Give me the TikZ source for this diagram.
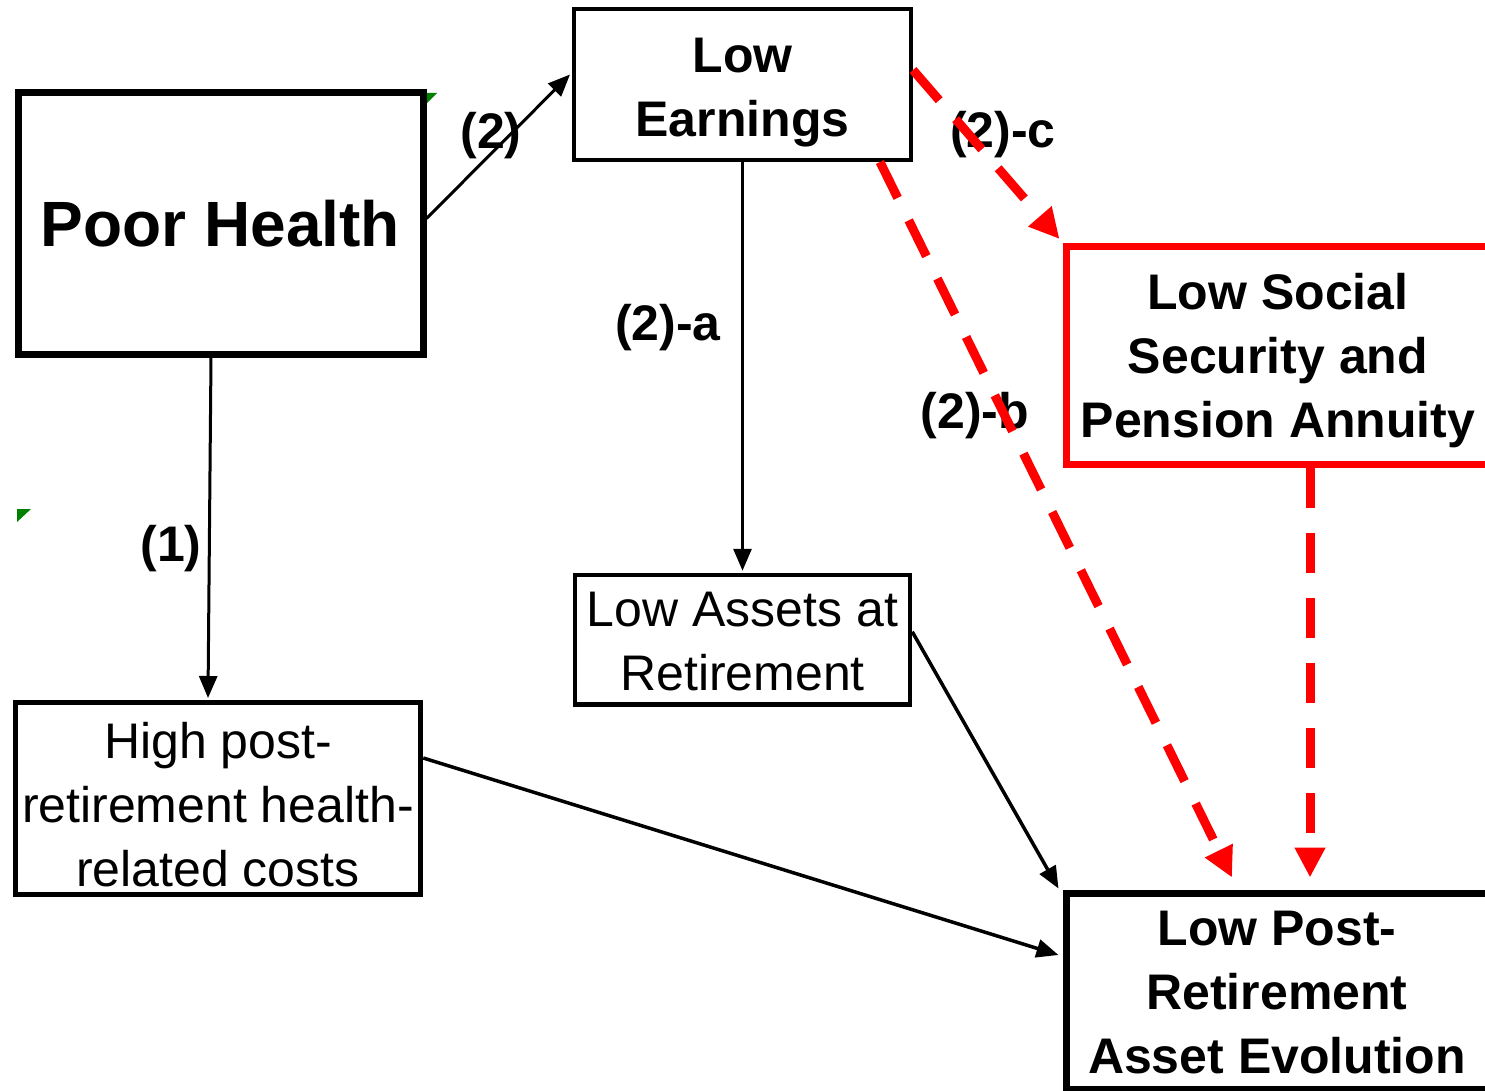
\documentclass[tikz,border=0pt]{standalone}
\usepackage{fontspec}
\setmainfont{Liberation Sans}
\usetikzlibrary{arrows.meta,calc}
\newcommand{\lowertext}[2]{\raisebox{-#1}[\height][\depth]{\begin{tabular}{@{}c@{}}#2\end{tabular}}}
\begin{document}
\begin{tikzpicture}[x=1pt,y=-1pt,
  box/.style={draw, rectangle, inner sep=0pt, align=center, fill=white,
    font=\fontsize{50}{64}\selectfont},
  bbox/.style={box, font=\fontsize{50}{64}\selectfont\bfseries},
  lbl/.style={inner sep=0pt, font=\fontsize{50}{60}\selectfont\bfseries},
  blk/.style={line width=3pt, -{Triangle[length=22pt,width=18pt]}},
  rdash/.style={draw=red, line width=9pt, dash pattern=on 40pt off 25pt,
    -{Triangle[length=30pt,width=29pt]}},
  greenmark/.style={fill=green!50!black, draw=none}
]
\useasboundingbox (0,0) rectangle (1485,1091);

% boxes
\node[bbox, line width=7pt, minimum width=405pt, minimum height=261pt,
  font=\fontsize{64}{70}\selectfont\bfseries] (ph) at (220.5,223.5) {Poor Health};
\node[bbox, line width=4pt, minimum width=337pt, minimum height=151pt] (le) at (742.5,84.5) {\lowertext{7pt}{Low\\Earnings}};
\node[bbox, draw=red, line width=7pt, minimum width=424pt, minimum height=218pt] (ls) at (1278,355.5) {\lowertext{5.5pt}{Low Social\\Security and\\Pension Annuity}};
\node[box, line width=4.5pt, minimum width=335pt, minimum height=129.5pt] (la) at (742.5,639.75) {\lowertext{6pt}{Low Assets at\\Retirement}};
\node[box, line width=5pt, minimum width=405.5pt, minimum height=186pt] (hp) at (218,798.5) {\lowertext{11.5pt}{High post-\\retirement health-\\related costs}};
\node[bbox, line width=7pt, minimum width=422pt, minimum height=196pt] (lp) at (1277,991) {\lowertext{5.5pt}{Low Post-\\Retirement\\Asset Evolution}};

% small green marks
\fill[greenmark] (427,93) -- (437,93) -- (427,103) -- cycle;
\fill[greenmark] (17,509) -- (31,509) -- (17,522) -- cycle;

% labels
\node[lbl] (l1) at (171,549) {(1)};
\node[lbl] (l2) at (491,136) {(2)};
\node[lbl] (l2a) at (668,328) {(2)-a};
\node[lbl] (l2b) at (975,416) {(2)-b};
\node[lbl] (l2c) at (1003,135) {(2)-c};

% black connectors
\draw[blk] ([xshift=-9.5pt]ph.south) -- ([xshift=-10pt,yshift=2pt]hp.north);
\draw[blk] ([yshift=5pt]ph.east) -- ([yshift=10pt,xshift=-2pt]le.west);
\draw[blk] (le.south) -- ([yshift=2pt]la.north);
\draw[blk, line width=3.5pt] ([yshift=8pt]la.east) -- ([xshift=-4pt,yshift=1pt]lp.north west);
\draw[blk, line width=3.5pt] ([yshift=40.5pt]hp.east) -- ([xshift=-4pt,yshift=36pt]lp.west);

% red dashed connectors
\draw[rdash] ([yshift=14.5pt]le.east) -- ([xshift=-3pt,yshift=4pt]ls.north west);
\draw[rdash] ([xshift=137.5pt]le.south) -- ([xshift=-45pt,yshift=12pt]lp.north);
\draw[rdash] ([xshift=32pt]ls.south) -- ([xshift=33pt,yshift=12pt]lp.north);
\end{tikzpicture}
\end{document}
